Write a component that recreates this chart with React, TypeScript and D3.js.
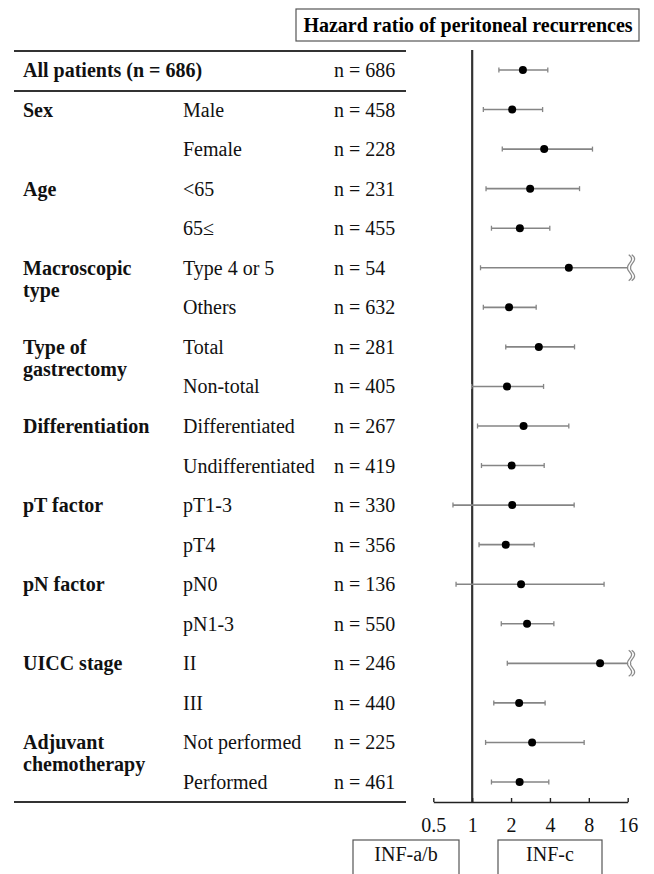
import React, {useEffect, useRef} from 'react';
import * as d3 from 'd3';

// subgroup rows, top to bottom
const subgroups = ['All patients', 'Male', 'Female', '<65', '65≤', 'Type 4 or 5', 'Others', 'Total', 'Non-total',
    'Differentiated', 'Undifferentiated', 'pT1-3', 'pT4', 'pN0', 'pN1-3', 'II', 'III', 'Not performed', 'Performed'];
const nValues = [686, 458, 228, 231, 455, 54, 632, 281, 405, 267, 419, 330, 356, 136, 550, 246, 440, 225, 461];
const hazard = [2.47, 2.04, 3.61, 2.81, 2.34, 5.60, 1.93, 3.28, 1.86, 2.50, 2.02, 2.04, 1.82, 2.39, 2.66, 9.78, 2.31, 2.91, 2.33];
const lower = [1.61, 1.22, 1.71, 1.28, 1.41, 1.16, 1.22, 1.82, 0.99, 1.10, 1.18, 0.71, 1.13, 0.75, 1.68, 1.87, 1.47, 1.27, 1.41];
// values above 16 are off the scale (drawn with a break mark)
const upper = [3.85, 3.51, 8.54, 6.78, 3.99, 24, 3.13, 6.20, 3.57, 5.60, 3.61, 6.16, 3.02, 10.5, 4.29, 30, 3.67, 7.36, 3.92];

const groupRows = [0, 1, 3, 5, 7, 9, 11, 13, 15, 17];
const groupLabels = [['All patients (n = 686)'], ['Sex'], ['Age'], ['Macroscopic', 'type'], ['Type of', 'gastrectomy'],
    ['Differentiation'], ['pT factor'], ['pN factor'], ['UICC stage'], ['Adjuvant', 'chemotherapy']];

const tickValues = [0.5, 1, 2, 4, 8, 16];
const title = 'Hazard ratio of peritoneal recurrences';
const leftBox = 'INF-a/b';
const rightBox = 'INF-c';

const FONT = '"Liberation Serif", "Times New Roman", serif';

export default function App() {
    const ref = useRef<SVGSVGElement>(null);

    useEffect(() => {
        const width = 654;
        const height = 874;
        const svg = d3.select(ref.current);
        svg.selectAll('*').remove();
        svg.attr('width', width).attr('height', height);

        const x = d3.scaleLog().base(2).domain([0.5, 16]).range([433.3, 627.7]);
        const y = d3.scalePoint<number>().domain(subgroups.map((d, i) => i)).range([70, 782]);
        const axisY = 802;
        const g = svg.append('g').style('font-family', FONT);

        // header box
        g.append('rect').attr('x', 296).attr('y', 9).attr('width', 343).attr('height', 32)
            .attr('fill', 'none').attr('stroke', '#555').attr('stroke-width', 1.2);
        g.append('text').attr('x', 468).attr('y', 32).attr('text-anchor', 'middle')
            .style('font-size', '20px').style('font-weight', 'bold').text(title);

        // table lines
        [51, 91, axisY].forEach(ly => {
            g.append('line').attr('x1', 14).attr('x2', 406).attr('y1', ly).attr('y2', ly)
                .attr('stroke', '#333').attr('stroke-width', 2);
        });

        // group labels
        groupRows.forEach((r, i) => {
            groupLabels[i].forEach((t, k) => {
                g.append('text').attr('x', 23).attr('y', y(r)! + 7 + k * 22)
                    .style('font-size', '20px').style('font-weight', 'bold').attr('fill', '#111').text(t);
            });
        });

        // subgroup labels and n
        subgroups.forEach((s, i) => {
            if (i > 0) {
                g.append('text').attr('x', 183).attr('y', y(i)! + 7)
                    .style('font-size', '20px').attr('fill', '#111').text(s);
            }
            g.append('text').attr('x', 334).attr('y', y(i)! + 7)
                .style('font-size', '20px').attr('fill', '#111').text(`n = ${nValues[i]}`);
        });

        // reference line at HR = 1
        g.append('line').attr('x1', x(1)).attr('x2', x(1)).attr('y1', 50).attr('y2', axisY)
            .attr('stroke', '#333').attr('stroke-width', 2.2);

        // axis
        const axis = g.append('g').attr('transform', `translate(0,${axisY})`)
            .call(d3.axisBottom(x).tickValues(tickValues).tickFormat(d => String(d))
                .tickSize(-4).tickSizeOuter(0).tickPadding(16));
        axis.select('.domain').attr('stroke', '#222').attr('stroke-width', 1.6);
        axis.selectAll('.tick line').attr('stroke', '#222').attr('stroke-width', 1.4);
        axis.selectAll('.tick text').style('font-size', '20px').style('font-family', FONT).attr('fill', '#111');

        // confidence intervals
        const maxX = x(16);
        subgroups.forEach((s, i) => {
            const cy = y(i)!;
            const x0 = x(lower[i]);
            const off = upper[i] > 16;
            const x1 = off ? maxX : x(upper[i]);
            const col = '#858585';
            g.append('line').attr('x1', x0).attr('x2', x1).attr('y1', cy).attr('y2', cy)
                .attr('stroke', col).attr('stroke-width', 1.6);
            g.append('line').attr('x1', x0).attr('x2', x0).attr('y1', cy - 2.5).attr('y2', cy + 2.5)
                .attr('stroke', col).attr('stroke-width', 1.3);
            if (off) {
                [0, 3].forEach(dx => {
                    const bx = maxX + dx;
                    g.append('path')
                        .attr('d', `M${bx + 1},${cy - 13} C${bx + 9},${cy - 8} ${bx - 2},${cy - 3} ${bx},${cy}` +
                            ` C${bx - 2},${cy + 3} ${bx + 9},${cy + 8} ${bx + 1},${cy + 13}`)
                        .attr('fill', 'none').attr('stroke', '#8a8a8a').attr('stroke-width', 1.2);
                });
            } else {
                g.append('line').attr('x1', x1).attr('x2', x1).attr('y1', cy - 2.5).attr('y2', cy + 2.5)
                    .attr('stroke', col).attr('stroke-width', 1.3);
            }
            g.append('circle').attr('cx', x(hazard[i])).attr('cy', cy).attr('r', 4).attr('fill', '#000');
        });

        // bottom boxes
        [[353, 459, leftBox], [498, 602, rightBox]].forEach(([a, b, t]) => {
            g.append('rect').attr('x', a as number).attr('y', 840).attr('width', (b as number) - (a as number))
                .attr('height', 60).attr('fill', 'none').attr('stroke', '#555').attr('stroke-width', 1.2);
            g.append('text').attr('x', ((a as number) + (b as number)) / 2).attr('y', 861)
                .attr('text-anchor', 'middle').style('font-size', '20px').attr('fill', '#111').text(t as string);
        });
    }, []);

    return (
        <div id='chartArea'>
            <svg ref={ref} style={{position: 'absolute', left: 0, top: 0, background: '#fff'}}/>
        </div>
    );
}
